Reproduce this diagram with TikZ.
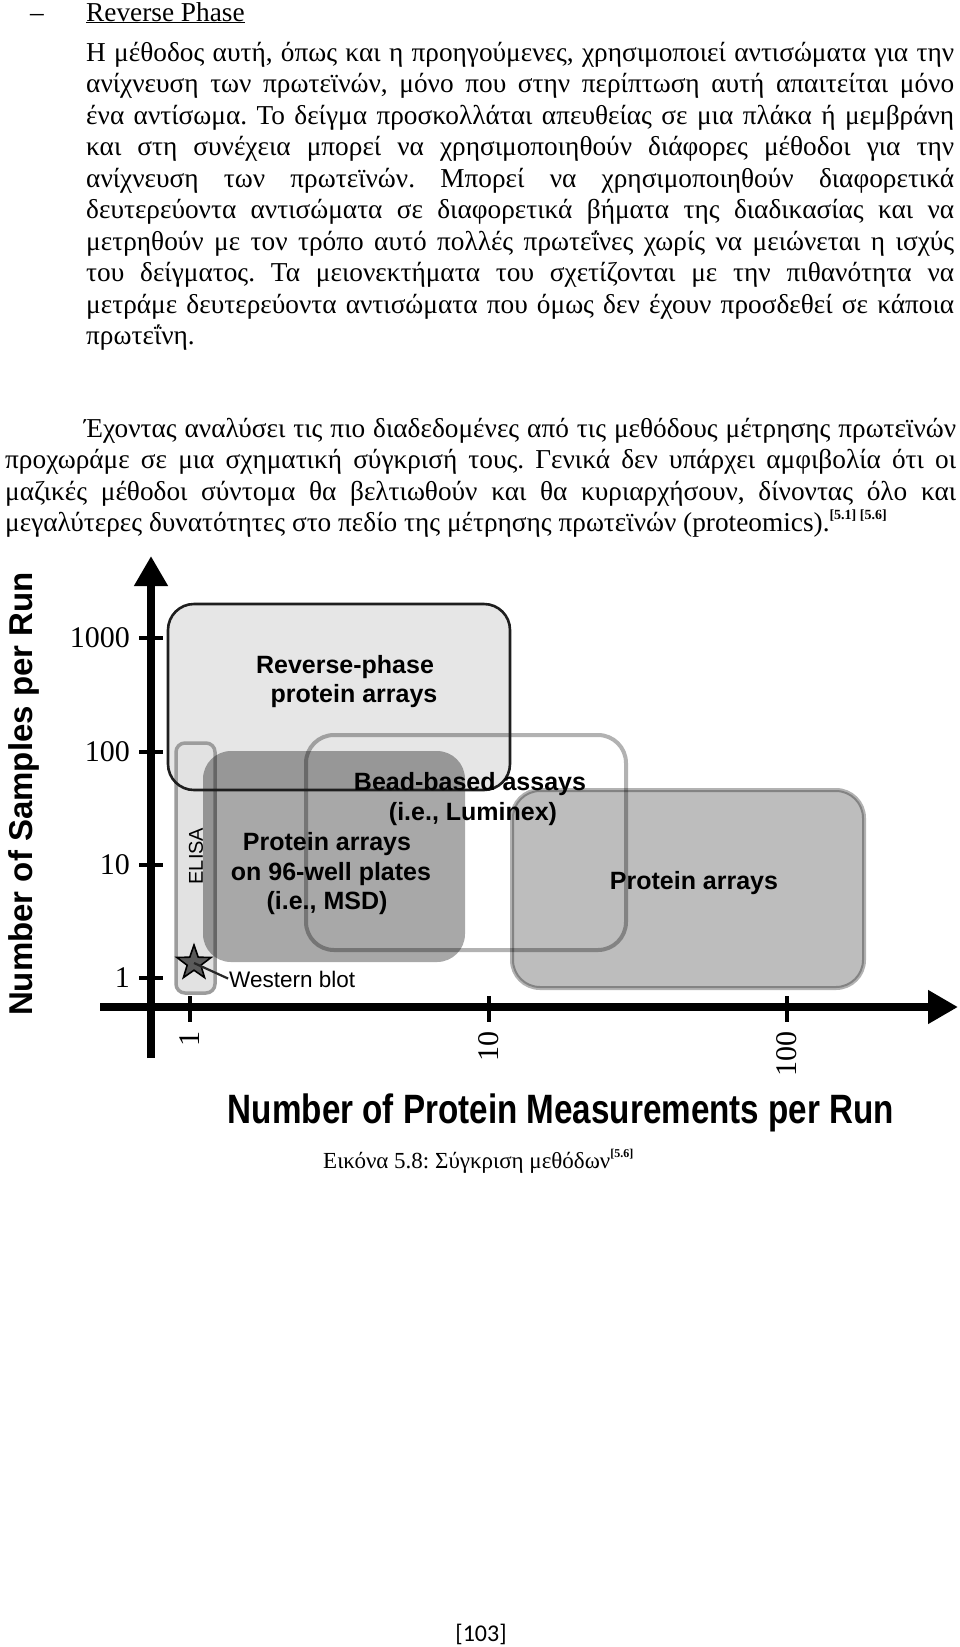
\documentclass[tikz,border=0pt]{standalone}
\usepackage{fontspec}
\setmainfont{Liberation Serif}
\newfontfamily\chartsans{Liberation Sans}
\newfontfamily\chartnarrow[FakeStretch=0.81]{Liberation Sans}
\newfontfamily\pagenumfont{Carlito}
\usetikzlibrary{arrows.meta,shapes.geometric}
\definecolor{rpfill}{HTML}{E6E6E6}
\definecolor{rpedge}{HTML}{1E1E1E}
\definecolor{elfill}{HTML}{E2E2E2}
\definecolor{eledge}{HTML}{9C9C9C}
\definecolor{starfill}{HTML}{5A5A5A}
\newcommand\refmark[1]{\raisebox{0.45em}{\fontsize{14}{14}\selectfont\bfseries #1}}
\tikzset{
  bodytxt/.style={anchor=base west, inner sep=0pt, font=\fontsize{27.3}{31.5}\selectfont\frenchspacing},
  captxt/.style={anchor=base west, inner sep=0pt, font=\fontsize{23}{27}\selectfont\frenchspacing},
  ticklab/.style={inner sep=0pt, font=\fontsize{30}{30}\selectfont},
  boxlab/.style={anchor=base, inner sep=0pt, font=\chartsans\bfseries\fontsize{25}{29}\selectfont},
  smalllab/.style={inner sep=0pt, font=\chartsans\fontsize{22.5}{26}\selectfont},
  axisline/.style={line width=8pt, -{Triangle[length=30pt,width=32pt]}},
  tickline/.style={line width=4.5pt},
  rpbox/.style={rounded corners=26pt},
  otherbox/.style={rounded corners=28pt},
}
\begin{document}
\begin{tikzpicture}[x=1pt,y=-1pt]
\fill[white] (0,0) rectangle (960,1647);
\useasboundingbox (0,0) rectangle (960,1647);

% ---------- heading ----------
\node[anchor=base, inner sep=0pt, font=\fontsize{27.3}{31.5}\selectfont] (dash) at (37,21) {–};
\node[bodytxt] (title) at (86,21) {\underline{Reverse Phase}};

% ---------- paragraph 1 ----------
\node[bodytxt] (pa1) at (86,61)    {\makebox[868pt][s]{Η μέθοδος αυτή, όπως και η προηγούμενες, χρησιμοποιεί αντισώματα για την}};
\node[bodytxt] (pa2) at (86,92.5)  {\makebox[868pt][s]{ανίχνευση των πρωτεϊνών, μόνο που στην περίπτωση αυτή απαιτείται μόνο}};
\node[bodytxt] (pa3) at (86,124)   {\makebox[868pt][s]{ένα αντίσωμα. Το δείγμα προσκολλάται απευθείας σε μια πλάκα ή μεμβράνη}};
\node[bodytxt] (pa4) at (86,155.5) {\makebox[868pt][s]{και στη συνέχεια μπορεί να χρησιμοποιηθούν διάφορες μέθοδοι για την}};
\node[bodytxt] (pa5) at (86,187)   {\makebox[868pt][s]{ανίχνευση των πρωτεϊνών. Μπορεί να χρησιμοποιηθούν διαφορετικά}};
\node[bodytxt] (pa6) at (86,218.5) {\makebox[868pt][s]{δευτερεύοντα αντισώματα σε διαφορετικά βήματα της διαδικασίας και να}};
\node[bodytxt] (pa7) at (86,250)   {\makebox[868pt][s]{μετρηθούν με τον τρόπο αυτό πολλές πρωτεΐνες χωρίς να μειώνεται η ισχύς}};
\node[bodytxt] (pa8) at (86,281.5) {\makebox[868pt][s]{του δείγματος. Τα μειονεκτήματα του σχετίζονται με την πιθανότητα να}};
\node[bodytxt] (pa9) at (86,313)   {\makebox[868pt][s]{μετράμε δευτερεύοντα αντισώματα που όμως δεν έχουν προσδεθεί σε κάποια}};
\node[bodytxt] (pa10) at (86,344.5) {πρωτεΐνη.};

% ---------- paragraph 2 ----------
\node[bodytxt] (pb1) at (84,437)   {\makebox[872pt][s]{Έχοντας αναλύσει τις πιο διαδεδομένες από τις μεθόδους μέτρησης πρωτεϊνών}};
\node[bodytxt] (pb2) at (5,468.5)  {\makebox[951pt][s]{προχωράμε σε μια σχηματική σύγκρισή τους. Γενικά δεν υπάρχει αμφιβολία ότι οι}};
\node[bodytxt] (pb3) at (5,500)    {\makebox[951pt][s]{μαζικές μέθοδοι σύντομα θα βελτιωθούν και θα κυριαρχήσουν, δίνοντας όλο και}};
\node[bodytxt] (pb4) at (5,531.5)  {μεγαλύτερες δυνατότητες στο πεδίο της μέτρησης πρωτεϊνών (proteomics).\refmark{[5.1] [5.6]}};

% ---------- chart boxes ----------
\fill[rpfill, rpbox] (168,604) rectangle (510,790);
\draw[fill=elfill, draw=eledge, line width=3.5pt, rounded corners=9pt] (176,743) rectangle (215,993);
\fill[black, fill opacity=0.34, otherbox] (203,751) rectangle (465,962);
\draw[black, draw opacity=0.3, line width=4pt, otherbox] (306,735) rectangle (626,950);
\draw[fill=black, fill opacity=0.26, draw=black, draw opacity=0.3, line width=4pt, otherbox] (512,790) rectangle (864,988);
\draw[rpedge, line width=2.6pt, rpbox] (168,604) rectangle (510,790);

% ---------- box labels ----------
\node[boxlab] (rp1) at (345,673) {Reverse-phase};
\node[boxlab] (rp2) at (354,702) {protein arrays};
\node[boxlab] (bd1) at (470,790) {Bead-based assays};
\node[boxlab] (bd2) at (473,820) {(i.e., Luminex)};
\node[boxlab] (mw1) at (327,850) {Protein arrays};
\node[boxlab] (mw2) at (331,880) {on 96-well plates};
\node[boxlab] (mw3) at (327,909) {(i.e., MSD)};
\node[boxlab] (pr1) at (694,889) {Protein arrays};
\node[smalllab, rotate=90, font=\chartsans\fontsize{20}{24}\selectfont] (elisa) at (196,856) {ELISA};

% ---------- western blot ----------
\node[smalllab, anchor=base west] (wb) at (229,987) {Western blot};
\node[star, star points=5, star point ratio=2.5, minimum size=36pt, inner sep=0pt,
      fill=starfill, draw=black, line width=1.6pt] (star) at (194,963) {};
\draw[line width=2.2pt, black!85, shorten >=1pt] (star.center) -- (wb.west);

% ---------- axes ----------
\coordinate (yb) at (151,1058);
\coordinate (yt) at (151,556);
\coordinate (xl) at (100,1007);
\coordinate (xr) at (958,1007);
\draw[axisline] (yb) -- (yt);
\draw[axisline] (xl) -- (xr);

\coordinate (ty1000a) at (139,638); \coordinate (ty1000b) at (163,638);
\coordinate (ty100a) at (139,752);  \coordinate (ty100b) at (163,752);
\coordinate (ty10a) at (139,865);   \coordinate (ty10b) at (163,865);
\coordinate (ty1a) at (139,978);    \coordinate (ty1b) at (163,978);
\draw[tickline] (ty1000a) -- (ty1000b);
\draw[tickline] (ty100a) -- (ty100b);
\draw[tickline] (ty10a) -- (ty10b);
\draw[tickline] (ty1a) -- (ty1b);

\coordinate (tx1a) at (190,996);  \coordinate (tx1b) at (190,1022);
\coordinate (tx10a) at (489,996); \coordinate (tx10b) at (489,1022);
\coordinate (tx100a) at (787,996);\coordinate (tx100b) at (787,1022);
\draw[tickline] (tx1a) -- (tx1b);
\draw[tickline] (tx10a) -- (tx10b);
\draw[tickline] (tx100a) -- (tx100b);

\node[ticklab, anchor=east] (ly1000) at (130,638) {1000};
\node[ticklab, anchor=east] (ly100) at (130,752) {100};
\node[ticklab, anchor=east] (ly10) at (130,865) {10};
\node[ticklab, anchor=east] (ly1) at (130,978) {1};

\node[ticklab, rotate=90, anchor=east] (lx1) at (190,1031) {1};
\node[ticklab, rotate=90, anchor=east] (lx10) at (489,1031) {10};
\node[ticklab, rotate=90, anchor=east] (lx100) at (787,1031) {100};

% ---------- axis titles ----------
\node[inner sep=0pt, rotate=90, font=\chartsans\bfseries\fontsize{33}{36}\selectfont] (ytitle) at (24,794) {Number of Samples per Run};
\node[inner sep=0pt, font=\chartnarrow\bfseries\fontsize{41}{44}\selectfont] (xtitle) at (561,1113) {Number of Protein Measurements per Run};

% ---------- caption and page number ----------
\node[captxt] (cap) at (323,1168) {Εικόνα 5.8: Σύγκριση μεθόδων\refmark{\fontsize{12}{12}\selectfont[5.6]}};
\node[anchor=base, inner sep=0pt, font=\pagenumfont\fontsize{24}{24}\selectfont] (pg) at (481,1641) {[103]};
\end{tikzpicture}
\end{document}
